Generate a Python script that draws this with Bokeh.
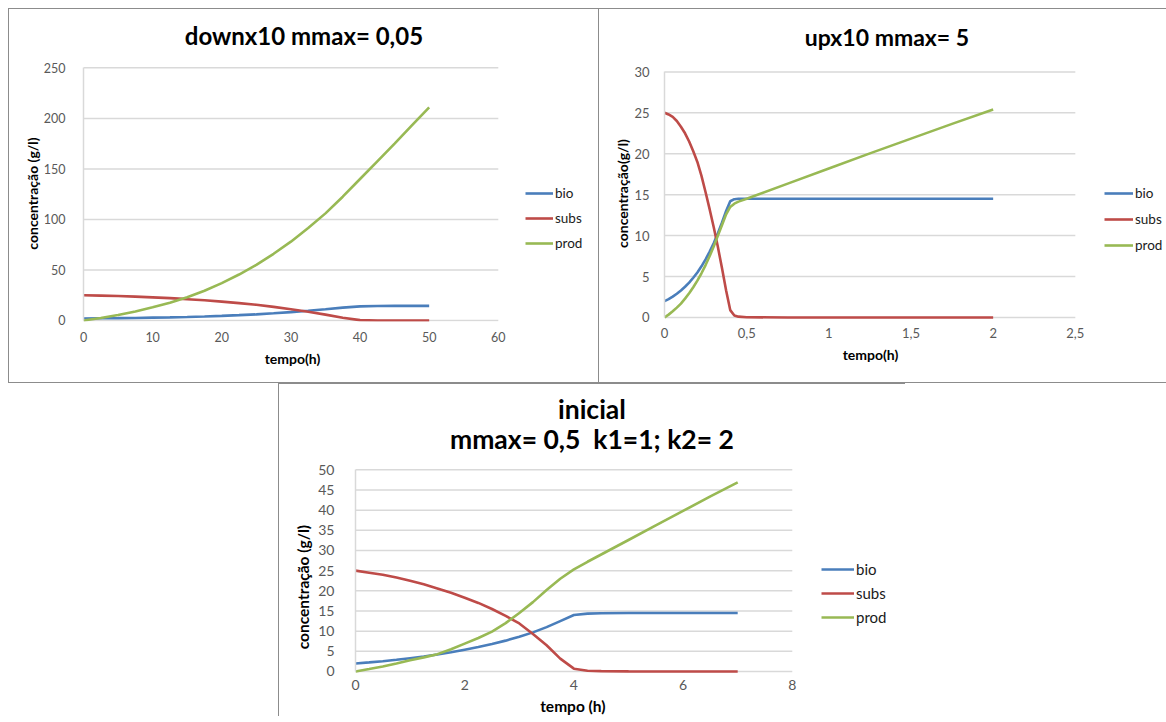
from bokeh.plotting import figure
from bokeh.models import Range1d, FixedTicker, Legend, LegendItem, Label, Spacer
from bokeh.layouts import column, row
from bokeh.embed import file_html
from bokeh.resources import INLINE

# ---------------- data ----------------
series_names = ["bio", "subs", "prod"]

# panel 1: downx10 mmax=0,05
t1 = [0, 2.5, 5, 7.5, 10, 12.5, 15, 17.5, 20, 22.5, 25, 27.5, 30, 32.5, 35, 37.5, 40, 42.5, 45, 47.5, 50]
bio1 = [2.0, 2.15, 2.3, 2.5, 2.8, 3.1, 3.5, 4.0, 4.6, 5.3, 6.1, 7.1, 8.3, 9.6, 11.1, 12.7, 14.0, 14.4, 14.5, 14.5, 14.5]
subs1 = [25, 24.6, 24.2, 23.6, 22.9, 22.1, 21.1, 20.0, 18.7, 17.2, 15.5, 13.5, 11.2, 8.6, 5.8, 2.8, 0.4, 0.05, 0, 0, 0]
prod1 = [0, 2.5, 5.5, 9, 13, 17.5, 23, 29.5, 37, 45.5, 55, 66, 78, 91.5, 106, 122.5, 140, 157.5, 175, 193, 211]

# panel 2: upx10 mmax=5
t2 = [0, 0.025, 0.05, 0.075, 0.1, 0.125, 0.15, 0.175, 0.2, 0.225, 0.25, 0.275, 0.3, 0.325, 0.35, 0.375,
      0.4, 0.425, 0.45, 0.5, 0.75, 1.0, 1.25, 1.5, 1.75, 2.0]
bio2 = [2.0, 2.25, 2.55, 2.9, 3.3, 3.75, 4.25, 4.85, 5.5, 6.25, 7.1, 8.05, 9.1, 10.3, 11.6, 13.0,
        14.2, 14.45, 14.5, 14.5, 14.5, 14.5, 14.5, 14.5, 14.5, 14.5]
subs2 = [25, 24.8, 24.5, 24.0, 23.3, 22.5, 21.5, 20.3, 19.0, 17.3, 15.3, 13.2, 11.0, 8.6, 6.0, 3.3,
         0.9, 0.25, 0.1, 0.03, 0, 0, 0, 0, 0, 0]
prod2 = [0, 0.35, 0.75, 1.2, 1.7, 2.3, 2.95, 3.7, 4.5, 5.4, 6.4, 7.5, 8.7, 10.0, 11.3, 12.6,
         13.5, 13.9, 14.15, 14.5, 16.35, 18.2, 20.05, 21.85, 23.65, 25.4]

# panel 3: inicial mmax=0,5 k1=1; k2=2
t3 = [0, 0.25, 0.5, 0.75, 1, 1.25, 1.5, 1.75, 2, 2.25, 2.5, 2.75, 3, 3.25, 3.5, 3.75, 4, 4.25, 4.5,
      5, 5.5, 6, 6.5, 7]
bio3 = [2.0, 2.25, 2.55, 2.9, 3.3, 3.7, 4.2, 4.75, 5.4, 6.05, 6.8, 7.65, 8.6, 9.7, 11.0, 12.5, 14.0,
        14.35, 14.45, 14.5, 14.5, 14.5, 14.5, 14.5]
subs3 = [25, 24.5, 24.0, 23.3, 22.5, 21.6, 20.6, 19.5, 18.3, 17.0, 15.5, 13.8, 11.9, 9.3, 6.5, 3.2, 0.7,
         0.2, 0.08, 0.03, 0, 0, 0, 0]
prod3 = [0, 0.6, 1.25, 2.0, 2.8, 3.5, 4.3, 5.5, 6.9, 8.3, 9.9, 12.0, 14.5, 17.2, 20.2, 23.0, 25.3,
         27.2, 29.0, 32.6, 36.2, 39.8, 43.4, 46.9]

xticks1 = [0, 10, 20, 30, 40, 50, 60]
yticks1 = [0, 50, 100, 150, 200, 250]
xticks2 = [0, 0.5, 1, 1.5, 2, 2.5]
xlabels2 = {0: "0", 0.5: "0,5", 1: "1", 1.5: "1,5", 2: "2", 2.5: "2,5"}
yticks2 = [0, 5, 10, 15, 20, 25, 30]
xticks3 = [0, 2, 4, 6, 8]
yticks3 = [0, 5, 10, 15, 20, 25, 30, 35, 40, 45, 50]

title1 = ["downx10 mmax= 0,05"]
title2 = ["upx10 mmax= 5"]
title3 = ["inicial", "mmax= 0,5\u00a0 k1=1; k2= 2"]
xlabel1, ylabel1 = "tempo(h)", "concentração (g/l)"
xlabel2, ylabel2 = "tempo(h)", "concentração(g/l)"
xlabel3, ylabel3 = "tempo (h)", "concentração (g/l)"

COLORS = ["#4A7EBB", "#BE4B48", "#98B954"]
FONT = "Lato"
BORDER = "1px solid #8c8c8c"
EN = "\u2002"  # en space: trailing pad that moves an axis title along its axis


def make_panel(cw, ch, left, bottom, xscale, yscale, y0px, t, ys, xticks, yticks, titles,
               xlabel, ylabel, leg, styles, fs, xoverrides=None):
    """cw, ch: canvas size; left/bottom: border sizes; xscale/yscale: px per unit;
    y0px: px between frame bottom and the y=0 line.  titles: (text, cx_px, cy_px) measured
    from the frame's left / the y=0 line."""
    fw = cw - left
    fh = ch - bottom
    ystart = -y0px / yscale
    xr = Range1d(0, fw / xscale)
    yr = Range1d(ystart, ystart + fh / yscale)
    p = figure(frame_width=fw, frame_height=fh, x_range=xr, y_range=yr,
               output_backend="svg", toolbar_location=None,
               min_border_left=left, min_border_right=0, min_border_top=0,
               min_border_bottom=bottom, background_fill_color="white",
               border_fill_color="white", outline_line_color=None)
    # horizontal gridlines limited to the axis extent
    n = len(yticks)
    p.segment(x0=[xticks[0]] * n, x1=[xticks[-1]] * n, y0=yticks, y1=yticks,
              line_color="#d9d9d9", line_width=1.5, level="underlay")
    rs = []
    for y, c in zip(ys, COLORS):
        rs.append(p.line(t, y, line_color=c, line_width=2.6))
    p.xgrid.grid_line_color = None
    p.ygrid.grid_line_color = None
    p.yaxis.ticker = FixedTicker(ticks=yticks)
    p.xaxis.ticker = FixedTicker(ticks=xticks)
    p.yaxis.bounds = (yticks[0], yticks[-1])
    p.xaxis.bounds = (xticks[0], xticks[-1])
    if xoverrides:
        p.xaxis.major_label_overrides = xoverrides
    for ax in (p.xaxis[0], p.yaxis[0]):
        ax.major_tick_line_color = None
        ax.minor_tick_line_color = None
        ax.major_label_text_font = FONT
        ax.major_label_text_font_size = fs["tick"]
        ax.major_label_text_color = "#595959"
        ax.axis_label_text_font = FONT
        ax.axis_label_text_font_size = fs["label"]
        ax.axis_label_text_font_style = "bold"
        ax.axis_label_text_color = "#000000"
    p.xaxis.axis_line_color = None
    p.yaxis.axis_line_color = "#d9d9d9"
    p.yaxis.axis_line_width = 1.5
    p.xaxis.axis_label = xlabel + EN * fs["xpad"]
    p.yaxis.axis_label = ylabel + EN * fs["ypad"]
    p.yaxis.major_label_standoff = fs["y1"]
    p.yaxis.axis_label_standoff = fs["y2"]
    p.xaxis.major_label_standoff = fs["x1"]
    p.xaxis.axis_label_standoff = fs["x2"]
    # titles
    for txt, cx, cy in titles:
        p.add_layout(Label(x=cx / xscale, y=cy / yscale, text=txt, text_align="center",
                           text_baseline="middle", text_font=FONT, text_font_size=fs["title"],
                           text_font_style="bold", text_color="#000000"))
    loc, gw, lh, sp = leg
    items = [LegendItem(label=nm, renderers=[r]) for nm, r in zip(series_names, rs)]
    lg = Legend(items=items, location=loc, background_fill_alpha=0, border_line_color=None,
                padding=0, margin=0, glyph_width=gw, glyph_height=lh, label_height=lh,
                spacing=sp, label_standoff=2, label_text_font=FONT,
                label_text_font_size=fs["legend"], label_text_color="#1a1a1a")
    p.add_layout(lg)
    p.styles = styles
    return p


# panel 1: frame left at page x 83, y=0 at page y 318, 6.9 px per h, 1.004 px per g/l
p1 = make_panel(589, 373, 74, 63, 6.9, 1.004, 1, t1, [bio1, subs1, prod1], xticks1, yticks1,
                [(title1[0], 220, 283)], xlabel1, ylabel1,
                ((442, 68), 28, 20, 5),
                {"border-left": BORDER, "border-top": BORDER, "border-bottom": BORDER},
                dict(title="24px", tick="12.5px", label="14px", legend="13.5px",
                     y1=12, y2=0, x1=4, x2=5, xpad=14, ypad=8))
# panel 2: frame left at page x 664, y=0 at page y 315
p2 = make_panel(567, 373, 65, 63, 164.0, 8.1333, 4, t2, [bio2, subs2, prod2], xticks2, yticks2,
                [(title2[0], 222, 279)], xlabel2, ylabel2,
                ((440, 66), 29, 20, 6),
                {"border-left": BORDER, "border-top": BORDER, "border-bottom": BORDER},
                dict(title="23px", tick="13px", label="14px", legend="13.5px",
                     y1=9, y2=0, x1=0, x2=5, xpad=13, ypad=8),
                xoverrides=xlabels2)
# panel 3: frame left at page x 355, y=0 at page y 670
p3 = make_panel(626, 330, 76, 42, 54.5, 4.02, 2, t3, [bio3, subs3, prod3], xticks3, yticks3,
                [(title3[0], 236, 262), (title3[1], 236, 232)], xlabel3, ylabel3,
                ((466, 46), 33, 20, 4),
                {"border-left": BORDER, "border-top": BORDER},
                dict(title="26.5px", tick="14px", label="15.5px", legend="15px",
                     y1=15, y2=3, x1=0, x2=4, xpad=15, ypad=15))

layout = column(
    Spacer(width=10, height=8),
    row(Spacer(width=8, height=10), p1, p2),
    row(Spacer(width=278, height=10), p3),
)

open("out.html", "w").write(file_html(layout, INLINE))
